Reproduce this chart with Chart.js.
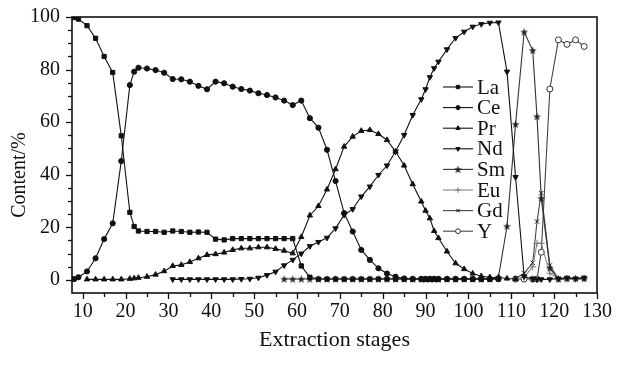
<!DOCTYPE html>
<html><head><meta charset="utf-8">
<script src="https://cdn.jsdelivr.net/npm/chart.js@4/dist/chart.umd.min.js"></script>
<style>html,body{margin:0;padding:0;background:#fff}#wrap{width:618px;height:367px}</style>
</head><body><div id="wrap"><canvas id="c" width="618" height="367"></canvas></div>
<script>
// ---- data ----
const stages = [8,9,11,13,15,17,19,21,22,23,25,27,29,31,33,35,37,39,41,43,45,47,49,51,53,55,57,59,61,63,65,67,69,71,73,75,77,79,81,83,85,87,89,90,91,92,93,95,97,99,101,103,105,107,109,111,113,115,116,117,119,121,123,125,127];
const lateStages = [111,113,115,116,117,119,121,123,125,127];

const La = [99.8,99.2,96.7,91.9,85.0,78.9,54.8,25.7,20.3,18.6,
  18.4,18.4,18.1,18.6,18.4,18.1,18.2,18.1,15.5,15.2,
  15.7,15.7,15.7,15.7,15.7,15.7,15.7,15.7,5.3,1.0,
  0.3,0.3,0.3,0.3,0.3,0.3,0.3,0.3,0.3,0.3,
  0.3,0.3,0.3,0.3,0.3,0.3,0.3,0.3,0.3,0.3,
  0.3,0.3,0.3,0.3,null,null,null,null,null,null,
  null,null,null,null,null];
const Ce = [0.3,1.0,3.2,8.2,15.5,21.5,45.2,74.1,79.2,80.7,
  80.4,79.8,78.8,76.4,76.3,75.4,73.8,72.5,75.4,74.8,
  73.5,72.6,72.0,71.0,70.3,69.4,68.2,66.5,68.2,61.5,
  57.9,49.5,37.6,25.4,18.4,11.4,7.6,4.4,2.4,1.2,
  0.5,0.3,0.3,0.3,0.3,0.3,0.3,0.3,0.3,0.3,
  0.3,0.3,0.3,0.3,null,null,null,null,null,null,
  null,null,null,null,null];
const Pr = [null,null,0.2,0.2,0.2,0.2,0.2,0.4,0.6,0.8,
  1.2,2.0,3.3,5.3,5.7,6.8,8.2,9.5,9.8,10.4,
  11.4,12.0,12.0,12.4,12.4,11.8,11.1,10.1,16.3,24.5,
  28.1,34.4,42.1,50.7,54.5,56.7,57.0,55.5,53.2,48.8,
  43.5,36.4,29.8,26.3,23.4,18.6,15.9,10.8,6.3,4.1,
  2.4,1.4,1.0,0.9,0.5,0.3,null,null,null,null,
  null,null,null,null,null];
const Nd = [null,null,null,null,null,null,null,null,null,null,
  null,null,null,0.2,0.2,0.2,0.2,0.2,0.2,0.2,
  0.2,0.3,0.4,0.8,1.8,3.1,5.5,7.6,10.0,12.8,
  14.4,16.0,19.6,24.7,26.9,31.7,35.5,39.9,43.5,48.8,
  55.1,62.7,68.7,72.5,77.1,80.5,83.0,87.7,92.0,94.4,
  96.3,97.3,97.8,97.9,79.2,39.1,1.3,0.3,0.2,0.2,
  0.2,0.5,0.8,0.5,0.8];
const Sm = [null,null,null,null,null,null,null,null,null,null,
  null,null,null,null,null,null,null,null,null,null,
  null,null,null,null,null,null,0.3,0.3,0.3,0.3,
  0.3,0.3,0.3,0.3,0.3,0.3,0.3,0.3,0.3,0.3,
  0.3,0.3,0.3,0.3,0.3,0.3,0.3,0.3,0.3,0.3,
  0.3,0.3,0.3,1.0,20.4,59.2,94.3,87.3,62.1,31.0,
  4.5,0.3,0.5,0.5,0.6];
const Eu = [0.3,1.0,5.0,13.9,13.9,2.5,0.3,0.3,0.3,0.3];
const Gd = [0.5,2.5,6.5,22.2,33.0,5.5,0.3,0.3,0.3,0.3];
const Yt = [0.3,0.3,0.3,0.3,10.5,72.6,91.3,89.6,91.3,88.8];

const xTicks = [10,20,30,40,50,60,70,80,90,100,110,120,130];
const yTicks = [0,20,40,60,80,100];
const names = ['La','Ce','Pr','Nd','Sm','Eu','Gd','Y'];

// ---- styling ----
const FONT = '"Liberation Serif", "Times New Roman", serif';
function starCanvas(){
  const c=document.createElement('canvas'); c.width=9; c.height=9;
  const g=c.getContext('2d'); g.fillStyle='#222'; g.beginPath();
  for(let k=0;k<10;k++){const r=k%2?1.7:4.2; const a=-Math.PI/2+k*Math.PI/5; g.lineTo(4.5+r*Math.cos(a),4.8+r*Math.sin(a));}
  g.closePath(); g.fill(); return c;
}
const star = starCanvas();
function pts(xs, ys){ return xs.map((s,i)=>({x:s,y:ys[i]})).filter(p=>p.y!==null); }
function ds(label, xs, ys, style, color, extra){
  return Object.assign({label, data:pts(xs,ys), borderColor:color, borderWidth:1.1,
    pointStyle:style, pointRadius:2.8, pointBorderWidth:1, pointBackgroundColor:'#111', pointBorderColor:'#111',
    tension:0, fill:false}, extra||{});
}
const datasets = [
  ds(names[0], stages, La, 'rect', '#111', {pointRadius:3}),
  ds(names[1], stages, Ce, 'circle', '#111', {pointRadius:2.6}),
  ds(names[2], stages, Pr, 'triangle', '#111', {pointRadius:3.1}),
  ds(names[3], stages, Nd, 'triangle', '#111', {pointRadius:3.1, pointRotation:180}),
  ds(names[4], stages, Sm, star, '#333', {}),
  ds(names[5], lateStages, Eu, 'cross', '#888', {pointRadius:3.5, pointBorderColor:'#777'}),
  ds(names[6], lateStages, Gd, 'crossRot', '#444', {pointRadius:3}),
  ds(names[7], lateStages, Yt, 'circle', '#444', {pointRadius:3, pointBackgroundColor:'#fff', pointBorderColor:'#333'}),
];

const framePlugin = {
  id:'frame',
  afterDraw(chart){
    const {ctx, chartArea:a, scales:{x,y}} = chart;
    ctx.save();
    ctx.strokeStyle='#111'; ctx.lineWidth=1.6;
    ctx.strokeRect(a.left, a.top, a.right-a.left, a.bottom-a.top);
    ctx.lineWidth=1.3;
    for(let v=10; v<=130; v+=5){
      const px = Math.round(x.getPixelForValue(v))+0.5;
      const len = v%10===0 ? 6 : 4;
      ctx.beginPath(); ctx.moveTo(px, a.bottom); ctx.lineTo(px, a.bottom+len); ctx.stroke();
    }
    for(let v=0; v<=100; v+=5){
      const py = Math.round(y.getPixelForValue(v))+0.5;
      const len = v%20===0 ? 6 : 4;
      ctx.beginPath(); ctx.moveTo(a.left, py); ctx.lineTo(a.left-len, py); ctx.stroke();
    }
    ctx.restore();
  }
};
const legendPlugin = {
  id:'inlegend',
  afterDatasetsDraw(chart){
    const ctx = chart.ctx;
    chart.data.datasets.forEach((d,i)=>{
      const yy = 87 + i*20.6;
      ctx.save();
      ctx.strokeStyle = d.borderColor; ctx.lineWidth = 1.1;
      ctx.beginPath(); ctx.moveTo(443,yy); ctx.lineTo(473,yy); ctx.stroke();
      ctx.fillStyle = d.pointBackgroundColor; ctx.strokeStyle = d.pointBorderColor; ctx.lineWidth=1;
      Chart.helpers.drawPoint(ctx, {pointStyle:d.pointStyle, radius:d.pointRadius*0.8, rotation:d.pointRotation||0, borderWidth:1}, 458, yy);
      ctx.fillStyle='#111'; ctx.font='21px ' + FONT; ctx.textBaseline='middle'; ctx.textAlign='left';
      ctx.fillText(d.label, 477, yy+1);
      ctx.restore();
    });
  }
};

new Chart(document.getElementById('c'), {
  type:'line',
  data:{datasets},
  options:{
    responsive:false, animation:false, devicePixelRatio:1,
    layout:{padding:{left:0,right:21,top:17,bottom:0}},
    plugins:{legend:{display:false}, tooltip:{enabled:false}},
    scales:{
      x:{type:'linear', min:7.5, max:130,
        afterBuildTicks(s){ s.ticks = xTicks.map(v=>({value:v})); },
        afterFit(s){ s.height = 74; },
        grid:{display:false}, border:{display:false},
        ticks:{color:'#111', font:{family:FONT, size:20}, padding:-1, maxRotation:0, autoSkip:false},
        title:{display:true, text:'Extraction stages', color:'#111', font:{family:FONT, size:22}, padding:{top:0,bottom:14}}
      },
      y:{type:'linear', min:-5, max:100,
        afterBuildTicks(s){ s.ticks = yTicks.map(v=>({value:v})); },
        afterFit(s){ s.width = 72; },
        grid:{display:false}, border:{display:false},
        ticks:{color:'#111', font:{family:FONT, size:20}, padding:4},
        title:{display:true, text:'Content/%        ', color:'#111', font:{family:FONT, size:20}, padding:{top:8,bottom:0}}
      }
    }
  },
  plugins:[framePlugin, legendPlugin]
});
</script>
</body></html>
